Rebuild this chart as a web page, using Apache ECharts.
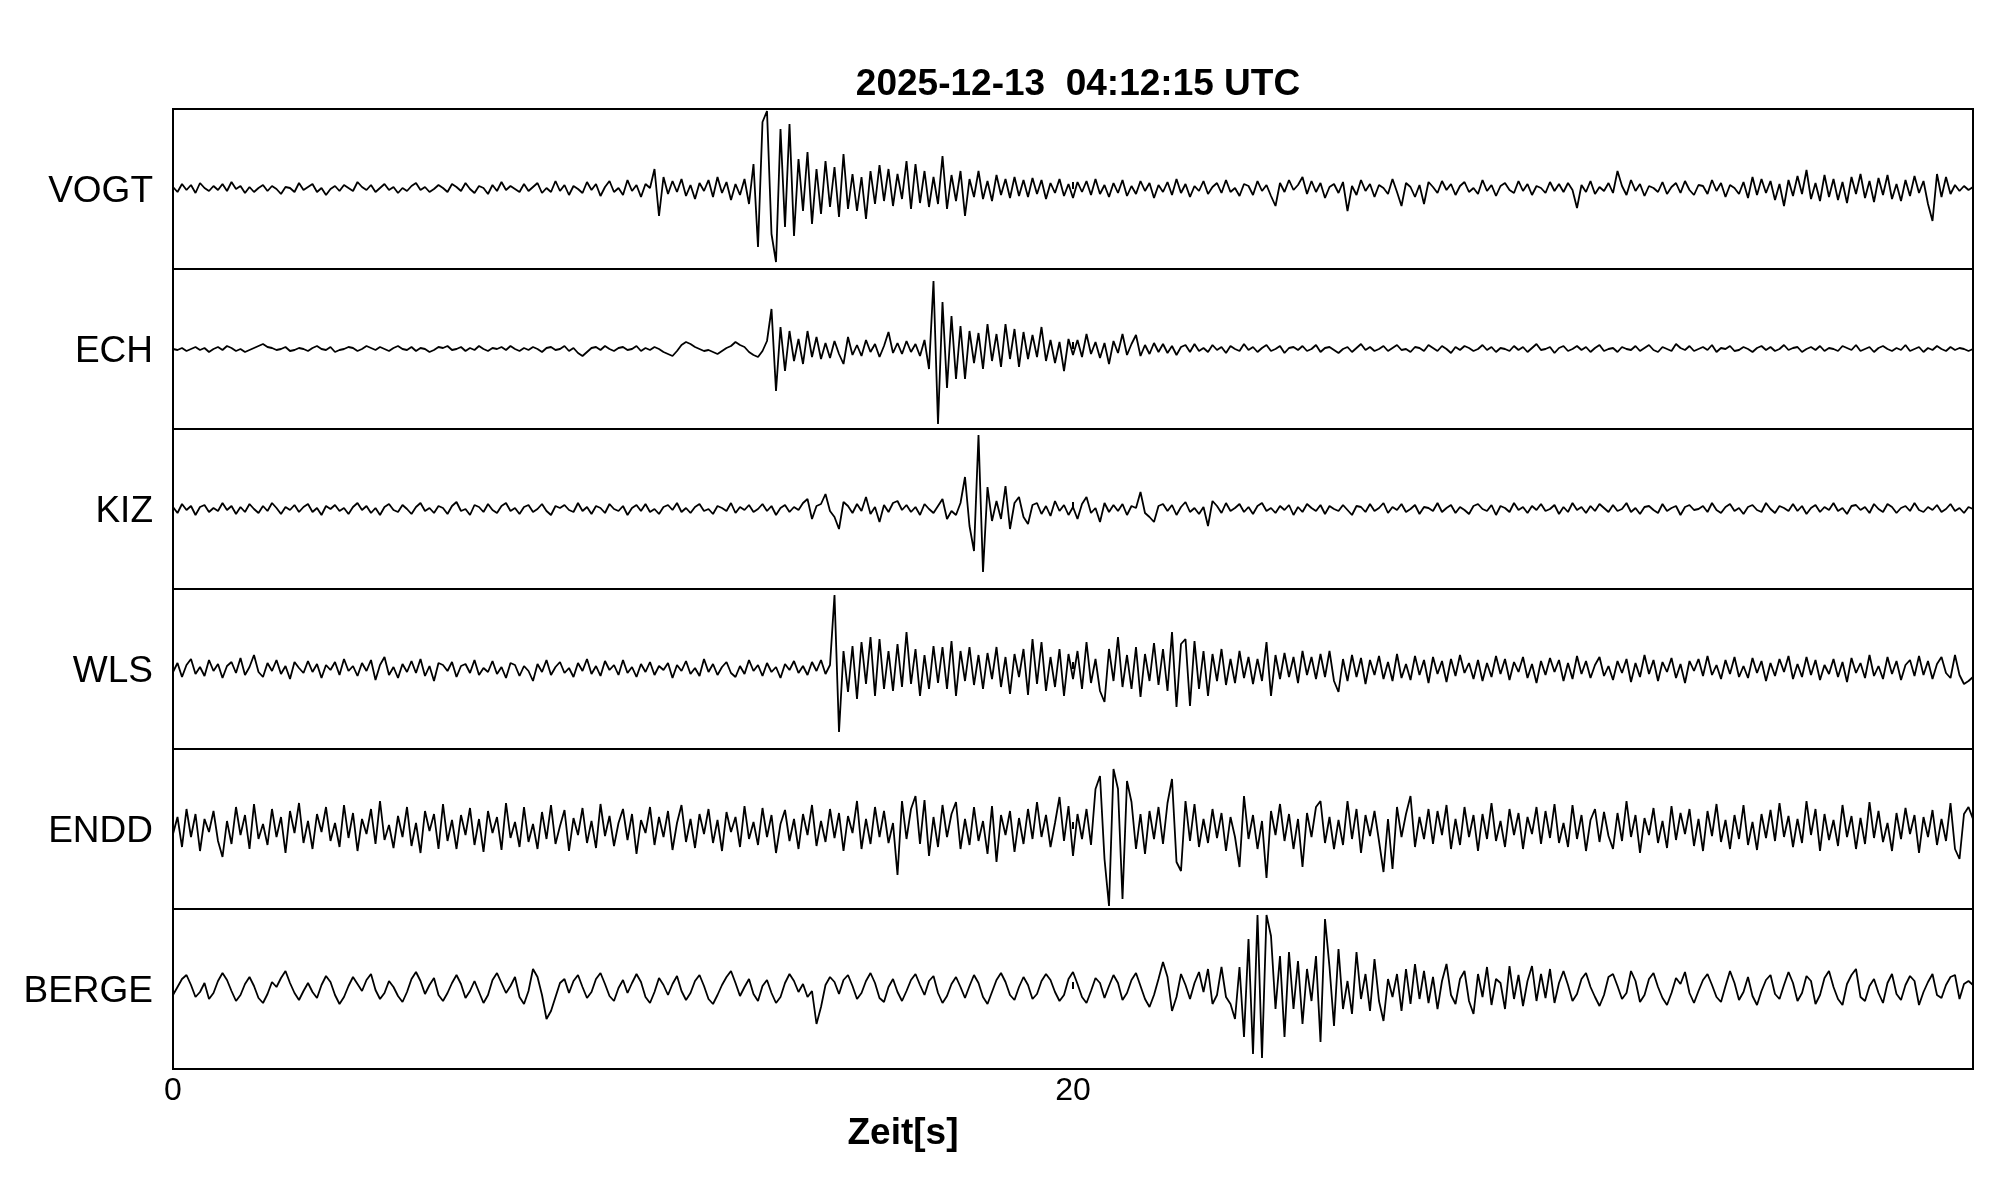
<!DOCTYPE html>
<html>
<head>
<meta charset="utf-8">
<script src="https://cdn.jsdelivr.net/npm/echarts@6/dist/echarts.min.js"></script>
<style>
  html, body { margin: 0; padding: 0; background: #fff; }
  #chart { width: 2005px; height: 1202px; }
</style>
</head>
<body>
<div id="chart"></div>
<script>
// sample spacing of the traces, seconds
const dt = 0.1;
const stations = ['VOGT', 'ECH', 'KIZ', 'WLS', 'ENDD', 'BERGE'];
const xTicks = [0, 20];

const vogt = [
  2,-3,5,-1,4,-4,6,1,-2,3,
  -1,5,-2,7,0,3,-4,2,-3,1,
  4,-2,3,0,-5,2,1,-3,6,-1,
  2,5,-3,1,-6,0,3,-2,4,1,
  -2,7,2,-1,4,-3,1,5,-1,2,
  -4,1,-2,3,6,-1,2,-3,0,4,
  1,-3,5,2,-2,6,0,-4,3,1,
  -5,4,-2,7,-1,3,0,-3,5,-2,
  2,6,-4,1,-3,8,-2,4,-6,3,
  0,-4,7,-1,5,-7,2,8,-3,1,
  -6,9,-2,4,-8,5,1,20,-27,12,
  -5,8,-3,10,-7,4,-10,6,-2,9,
  -8,12,-4,7,-11,5,-6,10,-15,25,
  -58,67,78,-45,-73,60,-38,65,-47,30,
  -22,37,-35,20,-25,28,-18,22,-28,35,
  -20,15,-22,12,-30,18,-15,24,-12,20,
  -17,15,-10,28,-20,25,-14,18,-18,12,
  -15,33,-20,14,-12,18,-27,10,-8,18,
  -10,8,-12,14,-6,10,-9,12,-7,9,
  -8,11,-5,9,-10,6,-4,10,-7,5,
  -9,7,-3,8,-6,10,-5,4,-8,6,
  -4,9,-7,3,-5,8,-2,6,-9,4,
  -3,7,-6,10,-4,5,-8,3,-2,8,
  -5,2,6,-4,9,-3,1,-7,5,3,
  -6,8,-2,4,-7,-17,6,-3,9,-1,
  4,12,-5,8,-3,6,-9,2,5,-4,
  7,-22,3,-6,9,-2,5,-8,4,1,
  -5,10,-3,-17,6,2,-8,4,-15,7,
  2,-4,8,-1,5,-6,3,7,-3,1,
  -5,9,-2,4,-7,3,6,-1,-4,8,
  -2,5,-6,3,1,-4,7,-2,5,-3,
  6,-1,-19,4,-3,8,-5,2,-2,6,
  -4,18,3,-6,9,-2,5,-7,3,1,
  -3,7,-5,2,6,-4,8,-1,-6,4,
  3,-5,9,-2,6,-8,4,1,-5,7,
  -9,12,-6,10,-4,8,-11,5,-17,9,
  -7,13,-5,19,-10,6,-12,14,-8,10,
  -11,7,-14,12,-5,15,-9,8,-13,11,
  -6,14,-10,5,-12,9,-7,13,-4,8,
  -15,-32,15,-8,12,-5,4,-2,3,-1,
  2
];

const ech = [
  0,-1,1,-2,0,2,-1,1,-3,0,
  2,-1,3,1,-2,0,-3,-1,1,3,
  5,2,1,-1,0,2,-2,-1,1,0,
  -2,1,3,0,-1,2,-3,-1,0,2,
  1,-2,0,3,1,-1,2,0,-2,1,
  3,0,-1,2,-2,1,0,-3,-1,2,
  1,3,-1,0,2,-2,1,-1,3,0,
  -2,1,0,2,-1,3,0,-2,1,-1,
  2,0,-3,1,2,-1,0,3,-2,1,
  -4,-7,-3,1,2,-1,3,0,-2,1,
  2,-1,0,3,-2,1,-1,2,0,-3,
  -5,-7,-2,4,7,5,2,0,-2,-1,
  -3,-5,-2,1,3,7,4,2,-3,-6,
  -8,-2,8,40,-42,22,-22,18,-12,10,
  -15,18,-8,12,-10,6,-9,8,-5,-15,
  12,-6,4,-7,9,-3,5,-8,3,17,
  -4,6,-5,8,-3,5,-7,9,-20,68,
  -75,47,-39,33,-30,23,-30,18,-14,16,
  -20,25,-12,15,-18,25,-10,20,-18,17,
  -10,14,-8,22,-12,9,-14,7,-22,10,
  -6,9,-8,15,-5,7,-9,6,-15,8,
  -4,15,-6,5,14,-7,4,-5,6,-3,
  5,-4,3,-6,2,4,-3,5,-2,1,
  -3,4,-1,2,-4,3,0,-2,5,-1,
  2,-3,1,4,-2,0,3,-4,1,2,
  -1,3,-2,0,4,-3,1,2,-1,-4,
  0,2,-3,1,5,-1,2,-2,0,3,
  -2,1,4,-1,0,-3,2,1,-2,4,
  1,-2,3,0,-4,2,-1,3,1,-2,
  0,4,-1,2,-3,1,0,-2,3,-1,
  2,-3,1,5,-1,0,2,-4,1,3,
  -2,0,3,-1,2,-3,1,4,-2,0,
  1,-3,2,0,-1,3,-2,1,4,-1,
  -3,2,0,-2,5,1,-1,3,-2,0,
  2,-1,4,-3,1,0,3,-2,-1,2,
  0,-3,1,3,-1,2,-2,0,4,-1,
  1,2,-3,0,2,-1,3,-2,1,0,
  -2,3,1,-1,4,-2,0,2,-3,1,
  3,0,-2,1,-1,4,-2,0,2,-3,
  1,-1,3,0,-2,2,-1,1,0,-2,
  0
];

const kiz = [
  2,-4,5,-1,3,-6,2,4,-3,1,
  -2,6,-1,3,-5,2,-3,5,0,-4,
  3,-2,6,1,-5,2,-1,4,-3,2,
  5,-3,1,-6,3,0,4,-2,1,-5,
  2,6,-1,3,-4,1,-6,2,5,-1,
  -3,4,0,-5,2,6,-2,1,-4,3,
  1,-5,3,7,-2,0,-6,4,2,-3,
  5,-1,-4,3,6,-2,1,-5,2,4,
  -3,0,5,-2,-6,3,1,4,-1,-3,
  6,-2,2,-5,3,1,-4,5,0,-2,
  3,-6,1,4,-2,5,-3,0,-5,2,
  4,-1,6,-3,1,-4,2,5,-2,0,
  -5,3,1,-2,6,-4,2,-1,4,-3,
  0,5,-2,3,-6,1,4,-3,2,-1,
  6,10,-10,3,5,15,-2,-8,-20,7,
  3,-4,5,-2,12,-5,2,-13,4,-3,
  6,8,-1,4,-3,2,-6,5,0,-4,
  3,10,-10,-2,-6,6,32,-17,-42,74,
  -63,22,-12,8,-10,23,-20,6,12,-8,
  -15,4,6,-5,3,-7,8,-2,4,-6,
  2,-10,5,12,-4,1,-13,6,-3,4,
  -2,5,-6,3,1,17,-4,-8,-13,3,
  5,-2,4,-6,2,7,-3,1,-5,2,
  -17,8,3,-4,6,-2,1,5,-3,2,
  -5,3,6,-2,1,-4,3,-1,4,-6,
  2,-3,5,1,-2,4,-5,3,0,-2,
  4,-1,-6,3,2,-3,5,-2,1,6,
  -4,2,-1,5,-3,0,4,-5,2,1,
  -2,6,-3,1,4,-4,2,-1,-5,3,
  5,0,-2,4,-6,3,1,-3,6,-1,
  2,-4,3,-1,5,-2,0,4,-5,2,
  -3,6,-1,2,-4,3,-2,5,1,-3,
  4,-2,0,6,-3,1,-5,2,3,-1,
  -4,5,-2,1,3,-6,2,4,-1,0,
  3,-3,6,-1,-4,2,5,-2,1,-5,
  2,4,-1,-3,6,0,-4,3,1,-2,
  5,-2,3,-5,1,4,-3,2,-1,6,
  -2,1,-5,3,4,-1,2,-4,5,0,
  -3,5,2,-4,1,3,-2,6,-1,-3,
  2,-1,4,-3,0,5,-2,1,-4,2,
  0
];

const wls = [
  -3,6,-8,4,10,-5,2,-7,9,-2,
  5,-9,3,7,-4,11,-6,2,14,-3,
  -8,6,-2,9,-5,3,-10,7,1,-4,
  8,-3,5,-9,4,-1,7,-6,10,-2,
  3,-7,6,-2,9,-11,4,12,-6,2,
  -9,5,-3,8,-4,10,-7,3,-12,6,
  4,-2,7,-8,3,5,-4,9,-6,1,
  -3,8,-5,2,-9,6,4,-7,3,-2,
  -12,5,-3,9,-6,2,7,-4,1,-8,
  6,-2,10,-5,3,-7,8,-1,4,-6,
  9,-4,2,-8,5,-3,7,-6,3,-1,
  6,-9,4,-2,8,-5,1,-7,10,-3,
  5,-6,2,7,-4,-8,3,-5,9,-2,
  4,-7,6,-3,2,-9,5,-1,8,-4,
  3,-6,7,-2,9,-5,4,74,-63,18,
  -23,23,-30,27,-15,32,-27,30,-20,18,
  -22,25,-18,37,-15,20,-27,14,-20,23,
  -14,22,-20,28,-27,18,-12,22,-16,14,
  -20,16,-10,22,-18,12,-25,15,-8,20,
  -26,30,-15,27,-22,12,-18,20,-27,15,
  -10,18,-20,27,-14,10,-22,-33,20,-12,
  32,-18,14,-20,22,-28,15,-12,26,-16,
  20,-22,37,-38,25,30,-37,28,-20,18,
  -27,15,-12,20,-16,10,-14,18,-9,12,
  -15,10,-12,27,-27,14,-10,16,-8,12,
  -14,18,-6,12,-10,15,-8,18,-12,-23,
  10,-12,14,-8,11,-15,9,-6,13,-10,
  7,-12,15,-9,5,-11,13,-6,9,-14,
  12,-5,8,-13,10,-7,14,-4,6,-10,
  9,-12,6,-8,13,-5,10,-11,7,-3,
  12,-9,5,-14,8,-6,11,-3,9,-12,
  6,-10,13,-5,8,-9,4,12,-7,3,
  -11,8,-4,10,-13,6,-8,14,-5,9,
  -12,7,-3,11,-9,5,-14,8,-2,10,
  -7,13,-6,4,-10,9,-5,12,-8,3,
  -9,11,-4,8,-12,6,-7,10,-3,13,
  -10,5,-8,12,-6,9,-11,4,-5,10,
  -8,7,-13,11,-4,6,-9,14,-7,3,
  -10,12,-5,8,-11,4,9,-7,13,-6,
  8,-10,5,12,-4,-9,14,-6,-15,-12,
  -8
];

const endd = [
  -5,12,-18,20,-8,15,-22,10,-3,18,
  -12,-28,8,-15,22,-6,14,-20,25,-10,
  5,-16,20,-8,12,-24,18,-4,26,-14,
  8,-20,15,-3,22,-12,6,-18,24,-9,
  16,-22,10,-5,20,-15,28,-11,4,-19,
  13,-8,22,-17,6,-24,18,-2,15,-20,
  25,-12,9,-20,14,-6,21,-16,10,-23,
  18,-4,12,-21,26,-9,7,-18,22,-13,
  5,-20,17,-10,24,-15,3,19,-22,11,
  -6,21,-14,8,-19,25,-7,13,-17,6,
  20,-11,15,-25,9,-4,22,-16,12,-8,
  18,-21,6,24,-13,10,-19,15,-5,20,
  -14,9,-22,17,-3,12,-18,23,-10,7,
  -16,21,-8,14,-24,5,19,-12,10,-20,
  15,-6,24,-17,8,-13,20,-9,16,-22,
  13,-4,28,-20,10,-15,22,-8,18,-14,
  6,-46,28,-10,20,33,-15,29,-27,12,
  -18,24,-8,15,27,-20,10,-16,22,-12,
  8,-25,23,-33,14,-6,18,-23,11,-15,
  20,-10,27,-8,14,-18,6,32,-12,23,
  -27,15,-10,20,-16,40,53,-30,-77,60,
  40,-70,48,27,-20,15,-25,18,-10,22,
  -15,26,50,-33,-42,28,-12,25,-18,10,
  -14,20,-9,16,-22,12,-8,-38,33,-10,
  14,-20,8,-49,18,-6,25,-12,15,-20,
  10,-38,16,-8,22,28,-14,12,-20,9,
  -16,28,-10,20,-24,14,-7,18,-12,-43,
  10,-40,22,-8,15,33,-18,12,-10,20,
  -15,18,-6,24,-20,10,-16,22,-8,14,
  -22,15,-10,26,-12,8,-18,20,-6,16,
  -20,12,-5,22,-15,18,-9,25,-14,6,
  -18,24,-10,14,-22,9,20,-13,17,-7,
  -20,16,-12,28,-8,14,-24,11,-6,21,
  -14,8,-19,23,-11,16,-5,20,-17,10,
  -22,18,-7,25,-13,9,-20,14,-10,24,
  -16,7,-21,15,-9,19,-12,26,-8,13,
  -18,10,-14,28,-6,20,-22,15,-11,9,
  -17,24,-8,13,-20,11,-15,27,-9,18,
  -13,6,-22,16,-10,21,-5,14,-24,12,
  -8,19,-16,10,-12,26,-20,-30,15,22,
  10
];

const berge = [
  -6,2,10,14,4,-8,-3,6,-10,-4,
  8,16,9,-2,-12,-6,5,12,3,-9,
  -14,-5,7,2,11,18,6,-4,-11,-2,
  6,-3,-9,4,13,7,-6,-15,-8,3,
  12,5,-2,9,15,-1,-10,-4,8,2,
  -7,-13,-3,10,17,8,-5,4,11,-6,
  -12,-4,6,14,5,-9,-2,8,-3,-14,
  -6,9,16,6,-4,3,12,-8,-15,-2,
  20,12,-6,-30,-22,-8,6,10,-4,8,
  14,2,-9,-3,10,16,5,-7,-12,1,
  9,-4,6,15,7,-8,-14,-3,11,4,
  -6,5,13,-2,-11,-4,8,14,3,-10,
  -15,-6,4,12,18,6,-7,2,10,-5,
  -12,3,9,-4,-14,-8,6,15,8,-3,
  5,-8,-2,-35,-18,4,12,7,-5,9,
  14,3,-10,-4,8,16,6,-9,-13,2,
  10,-3,-12,-2,9,15,4,-6,8,13,
  -4,-14,-7,5,12,2,-9,3,14,6,
  -8,-15,-3,9,16,7,-6,-11,2,12,
  4,-10,-5,8,15,9,-3,-12,-6,10,
  17,5,-8,-14,-2,11,6,-9,3,14,
  6,-11,-4,9,16,3,-10,-18,-6,10,
  27,12,-22,-8,15,4,-10,6,17,-3,
  20,-15,-6,22,-8,-15,-30,22,-48,50,
  -65,74,-69,74,53,-20,33,-48,37,-20,
  28,-35,20,-12,33,-53,70,22,-37,40,
  -20,8,-25,37,-10,15,-22,30,-12,-32,
  10,-8,15,-22,20,-15,25,-10,18,-14,
  12,-20,8,25,-6,-15,10,18,-12,-25,
  15,-8,22,-16,10,6,-20,23,-10,14,
  -17,8,23,-12,15,-9,20,-14,6,18,
  4,-12,-5,10,16,2,-8,-17,-6,12,
  15,3,-10,-4,18,8,-13,-6,10,16,
  2,-9,-16,-4,11,5,17,-4,-14,-2,
  9,15,4,-8,-13,3,18,6,-11,-3,
  12,-7,-16,-2,9,14,-5,-10,4,17,
  6,-12,-4,13,8,-15,-6,11,18,2,
  -10,-16,5,14,20,-8,-12,3,10,-4,
  -14,6,15,-5,-11,4,13,8,-16,-3,
  7,15,-6,-9,4,12,14,-10,5,8,
  4
];

const traces = [vogt, ech, kiz, wls, endd, berge];

const font = 'Liberation Sans, Arial, Helvetica, sans-serif';
const plotLeft = 173, plotWidth = 1800, panelTop = 109, panelH = 160;

const chart = echarts.init(document.getElementById('chart'));

const grids = [], xAxes = [], yAxes = [], series = [], labels = [];
stations.forEach((name, i) => {
    const last = i === stations.length - 1;
    grids.push({
        left: plotLeft, top: panelTop + i * panelH,
        width: plotWidth, height: panelH,
        show: true, borderColor: '#000', borderWidth: 2,
        containLabel: false
    });
    xAxes.push({
        type: 'value', gridIndex: i, min: 0, max: 40, interval: xTicks[1] - xTicks[0],
        axisLine: { show: false },
        axisTick: { show: true, inside: true, length: 7, lineStyle: { color: '#000', width: 2 } },
        axisLabel: {
            show: last, showMaxLabel: false, margin: 6,
            color: '#000', fontSize: 32, fontFamily: font
        },
        splitLine: { show: false }
    });
    yAxes.push({
        type: 'value', gridIndex: i, min: -80, max: 80, show: false
    });
    series.push({
        type: 'line', xAxisIndex: i, yAxisIndex: i,
        data: traces[i].map((v, k) => [k * dt, v]),
        showSymbol: false, sampling: null,
        lineStyle: { color: '#000', width: 1.8 },
        silent: true
    });
    // station name left of each panel
    labels.push({
        type: 'text', x: plotLeft - 20, y: panelTop + i * panelH + panelH / 2 + 3,
        style: {
            text: name, fill: '#000', font: '37px ' + font,
            textAlign: 'right', textVerticalAlign: 'middle'
        }
    });
});

const option = {
    animation: false,
    backgroundColor: '#fff',
    title: {
        text: '2025-12-13  04:12:15 UTC',
        left: plotLeft + plotWidth / 2, top: 61, textAlign: 'center',
        textStyle: { color: '#000', fontSize: 37, fontWeight: 'bold', fontFamily: font }
    },
    grid: grids,
    xAxis: xAxes,
    yAxis: yAxes,
    series: series,
    graphic: labels.concat([{
        type: 'text', x: 903, y: 1134,
        style: {
            text: 'Zeit[s]', fill: '#000', font: 'bold 37px ' + font,
            textAlign: 'center', textVerticalAlign: 'middle'
        }
    }])
};

chart.setOption(option);
</script>
</body>
</html>
